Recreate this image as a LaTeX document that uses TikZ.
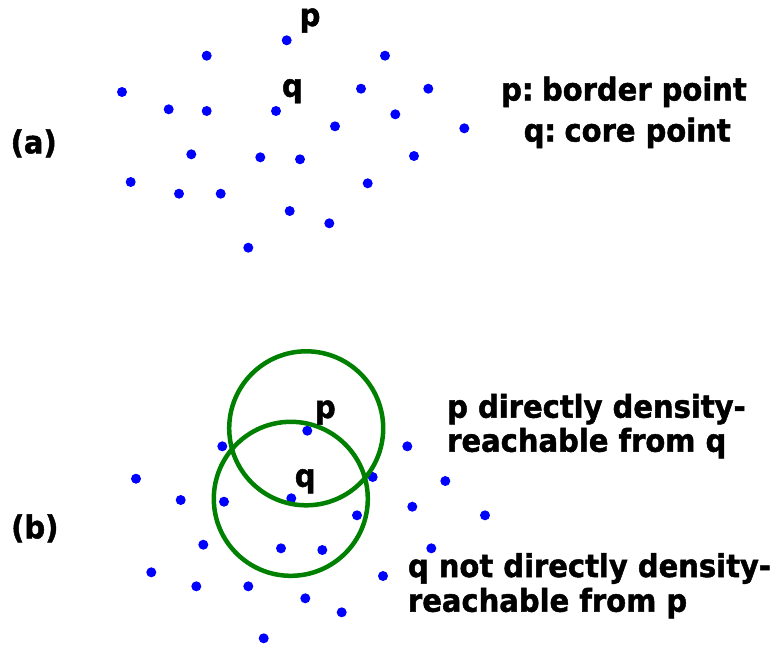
\documentclass[tikz,border=0pt]{standalone}
\usepackage{fontspec}
\setmainfont{DejaVu Sans}[BoldFeatures={FakeStretch=0.92,FakeBold=1.5}]
\definecolor{dgreen}{RGB}{0,128,0}
\begin{document}
\begin{tikzpicture}[x=1pt,y=-1pt,
  dot/.style={circle,fill=blue,inner sep=0pt,minimum size=10pt},
  lbl/.style={inner sep=0pt,anchor=base west,font=\fontsize{31.5}{34}\selectfont\bfseries},
  ring/.style={draw=dgreen,line width=4.5pt}]
\useasboundingbox (0,0) rectangle (775,646);
% panel (a)
\foreach \x/\y [count=\i] in {286.7/40.3,206.7/55.7,385/55.7,122/92,361/88.7,428.3/88.7,168.7/109.3,206.7/111,276/111,395.3/114.3,335/126.3,464.3/128.3,191.3/154.3,260.3/157.3,300/159.3,414/156,130.7/182,367.7/183.3,179/193.7,220.7/193.7,289.7/211,329.3/223.3,248.3/247.7}
  \node[dot] (a\i) at (\x,\y) {};
\node[lbl] (pa) at (299.5,26) {p};
\node[lbl] (qa) at (281.8,96.7) {q};
\node[lbl] (la) at (10.5,153.3) {(a)};
\node[lbl] (ta1) at (501,100.5) {p:\hspace{-5pt} border point};
\node[lbl] (ta2) at (523.5,141.5) {q:\hspace{-5pt} core point};
% panel (b)
\foreach \x/\y [count=\i] in {307.3/430.7,222.3/446.3,407.3/446.3,136/478.7,372.7/477,445.3/481,180.7/500,224/501.7,291.3/498.3,412.3/506.7,357/515.3,485/515.3,203.3/544.7,281/548.3,322.3/550,431.3/548.3,151.3/572.3,383/576,196.3/586.3,248.3/586.3,305.3/598.3,341.7/612.3,263.7/638.3}
  \node[dot] (b\i) at (\x,\y) {};
\draw[ring] (306.2,428.3) circle (77);
\draw[ring] (290.8,498.8) circle (77);
\node[lbl] (pb) at (314.8,418) {p};
\node[lbl] (qb) at (294.6,486.7) {q};
\node[lbl] (lb) at (11,538.3) {(b)};
\node[lbl] (tb1) at (447,417.7) {p directly density-};
\node[lbl] (tb2) at (447,451.7) {reachable from q};
\node[lbl] (tc1) at (407.8,577) {q not directly density-};
\node[lbl] (tc2) at (407.8,611.7) {reachable from p};
\end{tikzpicture}
\end{document}
